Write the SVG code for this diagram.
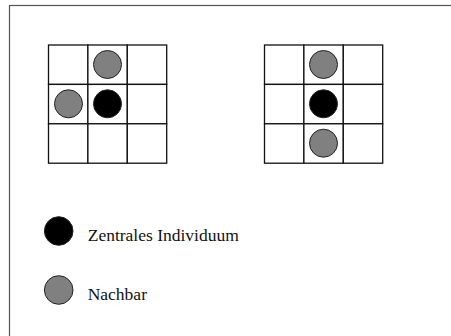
<svg xmlns="http://www.w3.org/2000/svg" width="451" height="336" viewBox="0 0 451 336">
  <style>
    .frame { fill: none; stroke: #555; stroke-width: 1.2; }
    .cell { fill: #fff; stroke: #111; stroke-width: 1.3; }
    .center { fill: #000; stroke: #222; stroke-width: 1; }
    .neighbour { fill: #808080; stroke: #222; stroke-width: 1; }
    .label { font-size: 17.5px; fill: #111; }
  </style>
  <defs>
    <g id="grid3">
      <rect class="cell" x="0" y="0" width="39.4" height="39.4"/>
      <rect class="cell" x="39.4" y="0" width="39.4" height="39.4"/>
      <rect class="cell" x="78.8" y="0" width="39.4" height="39.4"/>
      <rect class="cell" x="0" y="39.4" width="39.4" height="39.4"/>
      <rect class="cell" x="39.4" y="39.4" width="39.4" height="39.4"/>
      <rect class="cell" x="78.8" y="39.4" width="39.4" height="39.4"/>
      <rect class="cell" x="0" y="78.8" width="39.4" height="39.4"/>
      <rect class="cell" x="39.4" y="78.8" width="39.4" height="39.4"/>
      <rect class="cell" x="78.8" y="78.8" width="39.4" height="39.4"/>
    </g>
  </defs>

  <rect width="451" height="336" fill="#fff"/>
  <!-- page frame, open towards right and bottom edges -->
  <rect class="frame" x="9.5" y="5.5" width="460" height="350"/>

  <!-- neighbourhood: top and left -->
  <g id="grid-left">
    <use href="#grid3" x="48.5" y="45"/>
    <circle class="neighbour" cx="107.5" cy="64.5" r="14"/>
    <circle class="neighbour" cx="68.5" cy="103.8" r="14"/>
    <circle class="center" cx="107.5" cy="103.8" r="14"/>
  </g>

  <!-- neighbourhood: top and bottom -->
  <g id="grid-right">
    <use href="#grid3" x="264.5" y="45"/>
    <circle class="neighbour" cx="323.5" cy="64.5" r="14"/>
    <circle class="center" cx="323.5" cy="103.8" r="14"/>
    <circle class="neighbour" cx="323.5" cy="143.2" r="14"/>
  </g>

  <!-- legend -->
  <g id="legend-center">
    <circle class="center" cx="58.7" cy="231" r="14.3"/>
    <text class="label" font-family="Liberation Serif, DejaVu Serif, serif" x="87.7" y="240.7">Zentrales Individuum</text>
  </g>
  <g id="legend-neighbour">
    <circle class="neighbour" cx="58.7" cy="290" r="14.3"/>
    <text class="label" font-family="Liberation Serif, DejaVu Serif, serif" x="87.7" y="299.5">Nachbar</text>
  </g>
</svg>
